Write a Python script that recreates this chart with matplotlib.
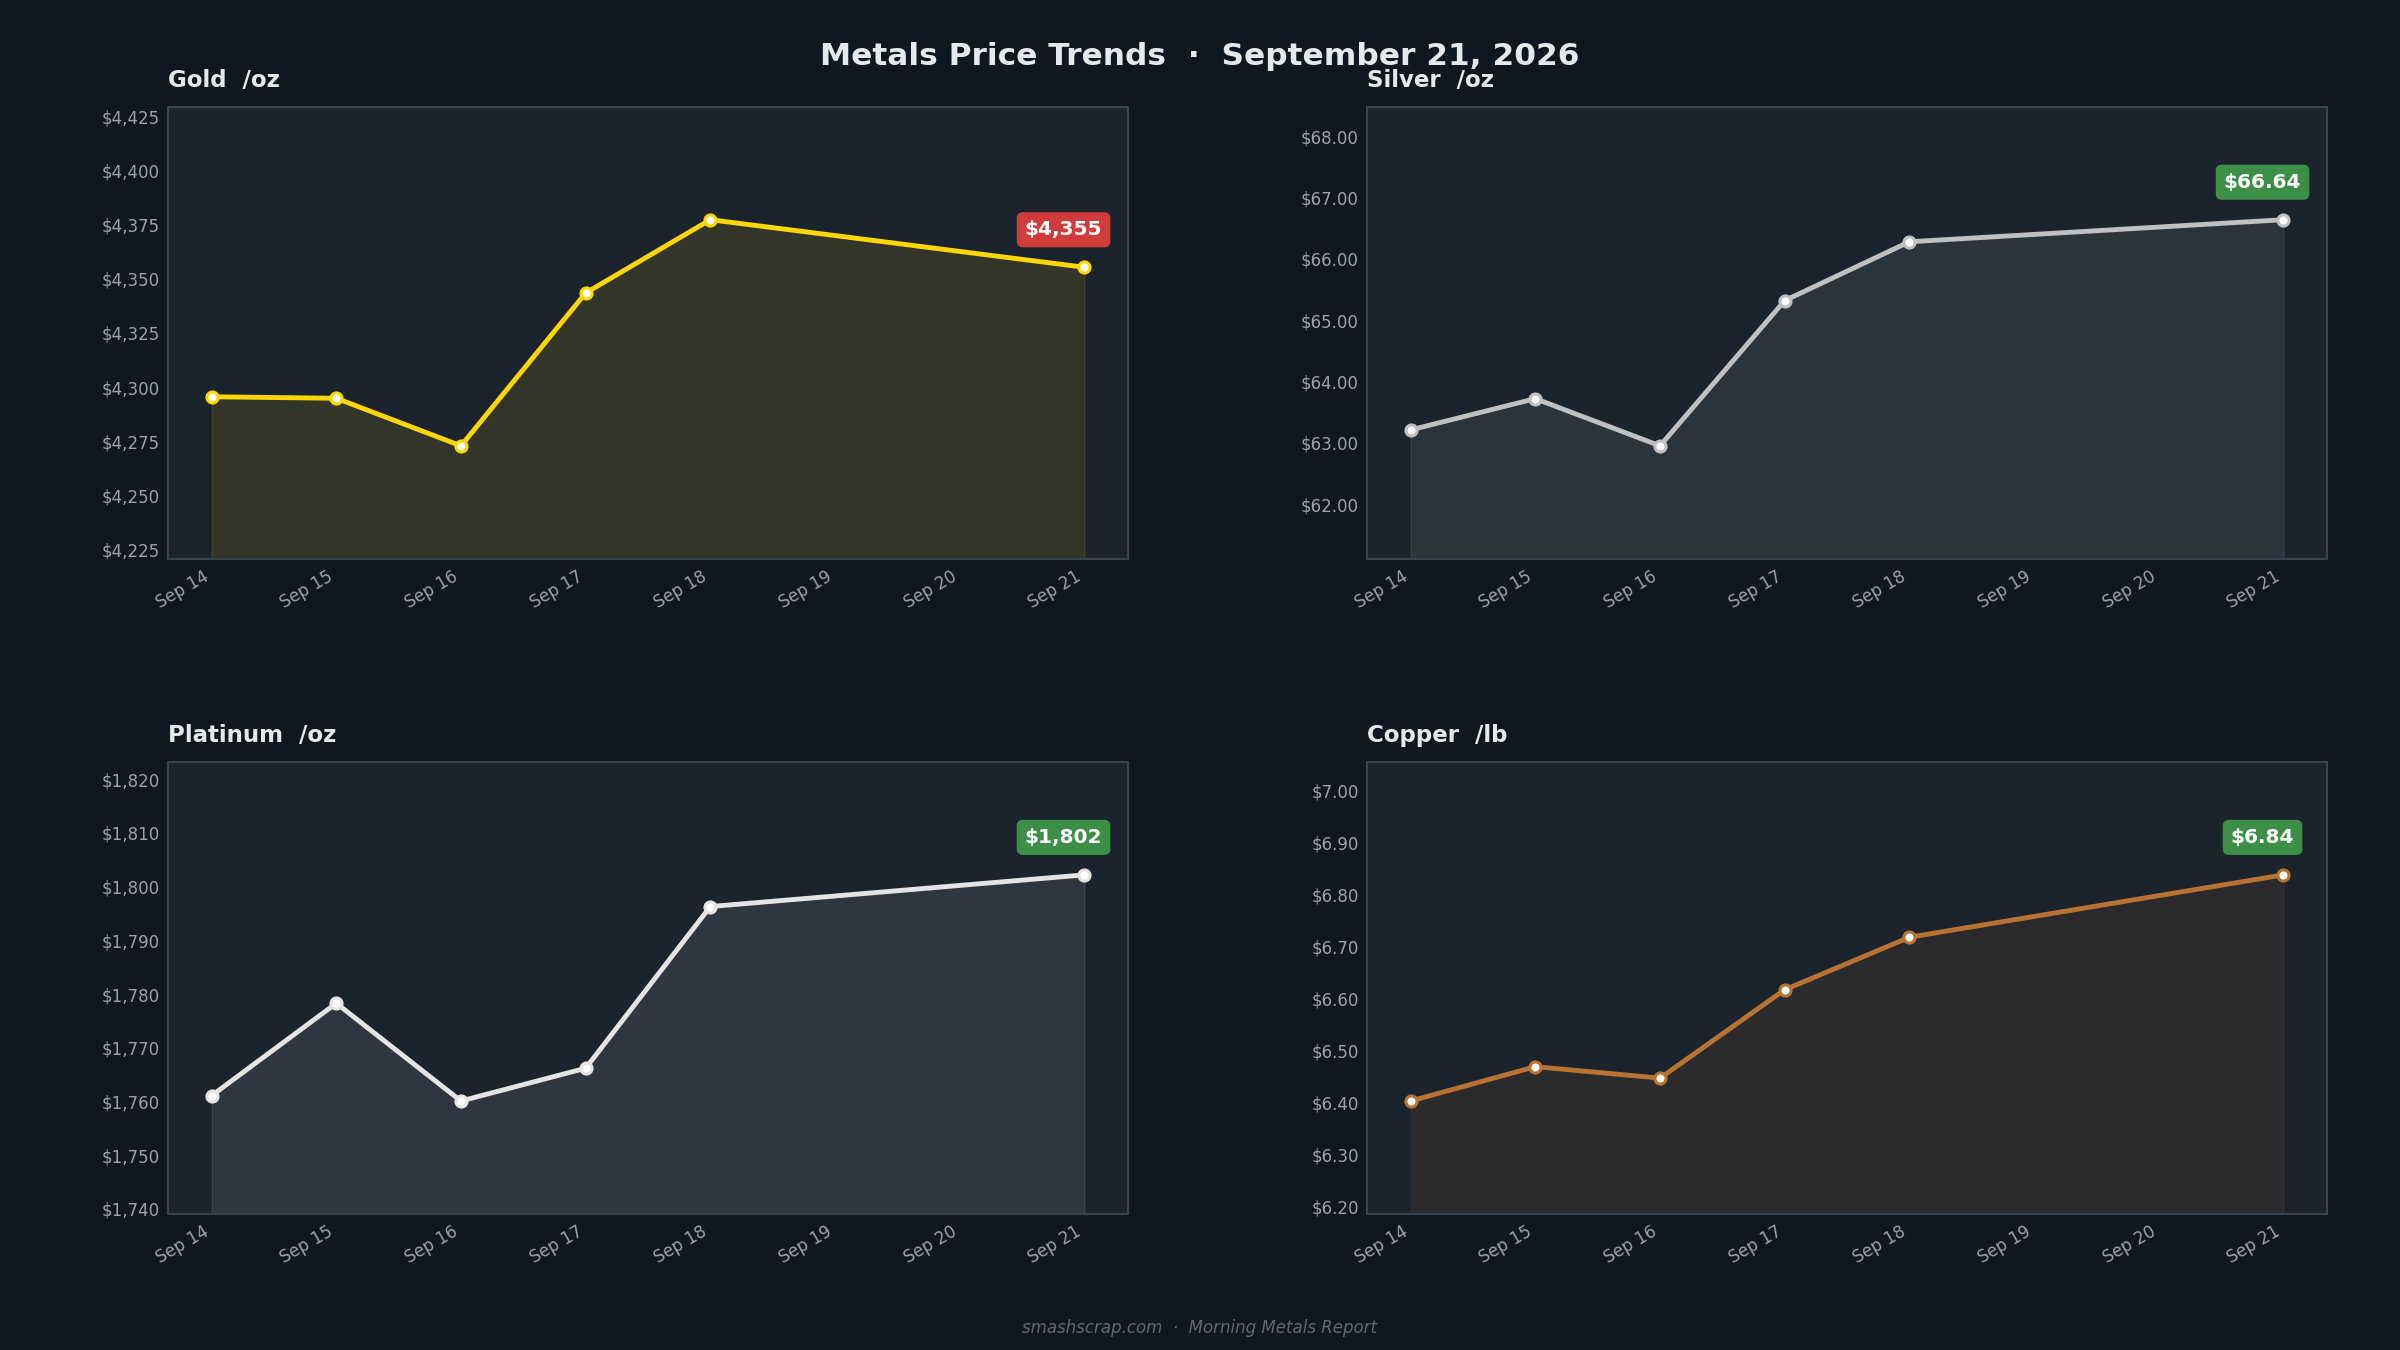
from datetime import datetime

import matplotlib
matplotlib.use('Agg')
import matplotlib.pyplot as plt
import matplotlib.dates as mdates
from matplotlib.ticker import MultipleLocator, FuncFormatter

# Trading days shown (weekend Sep 19-20 has no points)
dates = [datetime(2026, 9, d) for d in (14, 15, 16, 17, 18, 21)]

gold = [4295.5, 4294.8, 4272.8, 4343.5, 4377.4, 4355.4]
silver = [63.21, 63.72, 62.95, 65.32, 66.28, 66.64]
platinum = [1761.1, 1778.3, 1760.1, 1766.2, 1796.3, 1802.2]
copper = [6.403, 6.469, 6.447, 6.617, 6.718, 6.838]

names = ['Gold  /oz', 'Silver  /oz', 'Platinum  /oz', 'Copper  /lb']
series = [gold, silver, platinum, copper]
line_colors = ['#FFD700', '#C0C0C0', '#E5E4E2', '#B87333']
tick_steps = [25, 1, 10, 0.1]
decimals = [0, 2, 0, 2]

BG = '#0f1720'
PANEL = '#1b232d'
EDGE = '#38434e'
TEXT = '#e6e9ec'
MUTED = '#9aa3ad'
UP = '#3d8f47'
DOWN = '#d13b3b'

fig = plt.figure(figsize=(24, 13.5), dpi=100, facecolor=BG)

boxes = [
    [0.070, 0.586, 0.400, 0.335],
    [0.5696, 0.586, 0.400, 0.335],
    [0.070, 0.1007, 0.400, 0.335],
    [0.5696, 0.1007, 0.400, 0.335],
]

for box, name, vals, col, step, dec in zip(boxes, names, series, line_colors,
                                           tick_steps, decimals):
    ax = fig.add_axes(box)
    ax.set_facecolor(PANEL)
    for s in ax.spines.values():
        s.set_color(EDGE)
        s.set_linewidth(1.5)

    lo, hi = min(vals), max(vals)
    rng = hi - lo
    ymin, ymax = lo - 0.5 * rng, hi + 0.5 * rng

    ax.fill_between(dates, vals, ymin, color=col, alpha=0.10, lw=1)
    ax.plot(dates, vals, color=col, lw=3.5, marker='o', markersize=8,
            markerfacecolor='white', markeredgecolor=col, markeredgewidth=2.2,
            zorder=3)
    ax.set_ylim(ymin, ymax)
    ax.set_xlim(dates[0] - (dates[-1] - dates[0]) * 0.05,
                dates[-1] + (dates[-1] - dates[0]) * 0.05)

    ax.xaxis.set_major_locator(mdates.DayLocator())
    ax.xaxis.set_major_formatter(mdates.DateFormatter('%b %d'))
    ax.yaxis.set_major_locator(MultipleLocator(step))
    ax.yaxis.set_major_formatter(
        FuncFormatter(lambda v, p, d=dec: f'${v:,.{d}f}'))
    ax.tick_params(colors=MUTED, labelsize=12, length=0, pad=6)
    for lab in ax.get_xticklabels():
        lab.set_rotation(30)
        lab.set_ha('right')

    ax.set_title(name, loc='left', fontsize=16.5, fontweight='bold',
                 color=TEXT, pad=14)

    last, prev = vals[-1], vals[-2]
    badge = f'${last:,.{dec}f}'
    ax.annotate(badge, (dates[-1], last), xytext=(-15, 27),
                textcoords='offset points', ha='center', va='center',
                fontsize=14.5, fontweight='bold', color='white', zorder=5,
                bbox=dict(boxstyle='round,pad=0.4,rounding_size=0.3',
                          fc=UP if last >= prev else DOWN, ec='none'))

fig.suptitle('Metals Price Trends  \u00b7  September 21, 2026', y=0.969,
             fontsize=22.5, fontweight='bold', color=TEXT)
fig.text(0.5, 0.016, 'smashscrap.com  \u00b7  Morning Metals Report',
         ha='center', va='center', fontsize=12, style='italic', color='#5f6873')

fig.savefig('out.png', dpi=100, facecolor=BG)
